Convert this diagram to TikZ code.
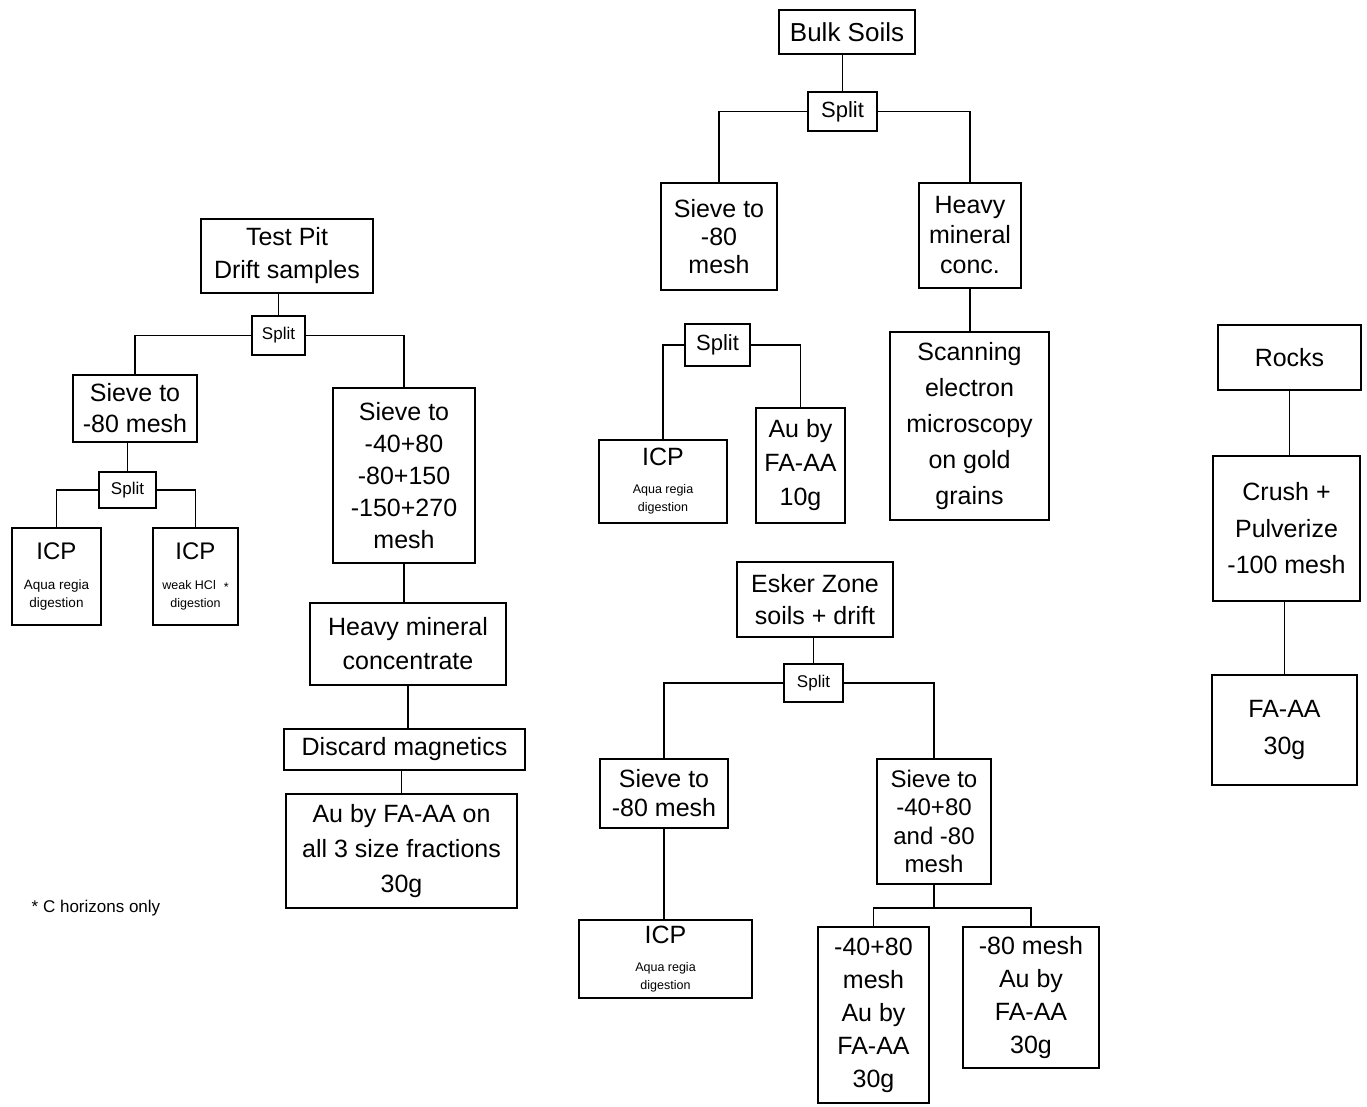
\documentclass[tikz,border=0pt]{standalone}
\usepackage{fontspec}
\setmainfont{Liberation Sans}
\newcommand{\fz}[2]{\fontsize{#1}{#2}\selectfont}
\begin{document}
\begin{tikzpicture}[x=1pt,y=-1pt,
  box/.style={draw, line width=1.3pt, inner sep=0pt, align=center},
  ln/.style={line width=1.3pt},
  splitbox/.style={box, font=\fz{17}{20}},
  bigsplit/.style={box, font=\fz{22}{26}}]
\useasboundingbox (0,0) rectangle (1367,1106);

% ---------- Test Pit ----------
\node[box, minimum width=172, minimum height=74, font=\fz{25}{33}] (tp) at (287,256) {Test Pit\\Drift samples};
\node[splitbox, minimum width=53, minimum height=39] (sp1) at (278.5,335.5) {Split};
\node[box, minimum width=124, minimum height=67, font=\fz{25}{31}] (s1) at (135,408.5) {Sieve to\\-80 mesh};
\node[splitbox, minimum width=57, minimum height=36] (sp2) at (127.5,490) {Split};
\node[box, minimum width=89, minimum height=97, font=\fz{24}{18}] (icp1) at (56.5,576.5) {ICP\\[12pt]\fz{13.5}{18}Aqua regia\\\fz{13.5}{18}digestion};
\node[box, minimum width=85, minimum height=97, font=\fz{24}{18}] (icp2) at (195.5,576.5) {ICP\\[12pt]\fz{12.5}{18}weak HCl\hspace{8pt}\raisebox{-2pt}{*}\\\fz{12.5}{18}digestion};
\node[box, minimum width=142, minimum height=175, font=\fz{25}{32}] (s2) at (404,475.5) {Sieve to\\-40+80\\-80+150\\-150+270\\mesh};
\node[box, minimum width=196, minimum height=82, font=\fz{25}{34}] (hm) at (408,644) {Heavy mineral\\concentrate};
\node[box, minimum width=241, minimum height=41, font=\fz{25}{30}] (dm) at (404.5,749.5) {Discard magnetics};
\node[box, minimum width=231, minimum height=114, font=\fz{25}{35}] (au) at (401.5,851) {Au by FA-AA on\\all 3 size fractions\\30g};
\node[font=\fz{17}{20}, inner sep=0pt] (fn) at (96,908) {* C horizons only};

\draw[ln] (sp1.north) -- (sp1.north |- tp.south);
\draw[ln] (sp1.west) -| (s1.north);
\draw[ln] (sp1.east) -| (s2.north);
\draw[ln] (sp2.north) -- (sp2.north |- s1.south);
\draw[ln] (sp2.west) -| (icp1.north);
\draw[ln] (sp2.east) -| (icp2.north);
\draw[ln] (s2.south) -- (s2.south |- hm.north);
\draw[ln] (dm.north -| hm.south) -- (hm.south);
\draw[ln] (au.north) -- (au.north |- dm.south);

% ---------- Bulk Soils ----------
\node[box, minimum width=136, minimum height=44, font=\fz{26}{30}] (bs) at (847,32) {Bulk Soils};
\node[bigsplit, minimum width=69, minimum height=39] (sp3) at (842.5,111.5) {Split};
\node[box, minimum width=116, minimum height=107, font=\fz{25}{28}] (sb) at (719,236.5) {Sieve to\\-80\\mesh};
\node[box, minimum width=102, minimum height=105, font=\fz{25}{30}] (hmc) at (970,235.5) {Heavy\\mineral\\conc.};
\node[box, minimum width=159, minimum height=188, font=\fz{25}{36}] (sem) at (969.5,426) {Scanning\\electron\\microscopy\\on gold\\grains};
\node[bigsplit, minimum width=65, minimum height=42] (sp4) at (717.5,345) {Split};
\node[box, minimum width=128, minimum height=83, font=\fz{25}{18}] (icp3) at (663,481.5) {ICP\\[10pt]\fz{12.5}{18}Aqua regia\\\fz{12.5}{18}digestion};
\node[box, minimum width=89, minimum height=115, font=\fz{25}{34}] (au10) at (800.5,465.5) {Au by\\FA-AA\\10g};

\draw[ln] (sp3.north) -- (sp3.north |- bs.south);
\draw[ln] (sp3.west) -| (sb.north);
\draw[ln] (sp3.east) -| (hmc.north);
\draw[ln] (hmc.south) -- (hmc.south |- sem.north);
\draw[ln] (sp4.west) -| (icp3.north);
\draw[ln] (sp4.east) -| (au10.north);

% ---------- Esker Zone ----------
\node[box, minimum width=156, minimum height=75, font=\fz{25}{32}] (ez) at (815,599.5) {Esker Zone\\soils + drift};
\node[splitbox, minimum width=59, minimum height=38] (sp5) at (813.5,683) {Split};
\node[box, minimum width=128, minimum height=69, font=\fz{25}{29}] (s3) at (664,793.5) {Sieve to\\-80 mesh};
\node[box, minimum width=173, minimum height=78, font=\fz{25}{18}] (icp4) at (665.5,959) {ICP\\[10pt]\fz{12.5}{18}Aqua regia\\\fz{12.5}{18}digestion};
\node[box, minimum width=114, minimum height=125, font=\fz{24}{28.5}] (s4) at (934,821.5) {Sieve to\\-40+80\\and -80\\mesh};
\node[box, minimum width=111, minimum height=176, font=\fz{25}{33}] (b1) at (873.5,1015) {-40+80\\mesh\\Au by\\FA-AA\\30g};
\node[box, minimum width=136, minimum height=141, font=\fz{25}{33}] (b2) at (1031,997.5) {-80 mesh\\Au by\\FA-AA\\30g};
\coordinate (j) at (938,908);

\draw[ln] (sp5.north) -- (sp5.north |- ez.south);
\draw[ln] (sp5.west) -| (s3.north);
\draw[ln] (sp5.east) -| (s4.north);
\draw[ln] (s3.south) -- (s3.south |- icp4.north);
\draw[ln] (s4.south) -- (s4.south |- j);
\draw[ln] (b1.north) |- (j) -| (b2.north);

% ---------- Rocks ----------
\node[box, minimum width=143, minimum height=65, font=\fz{25}{30}] (rk) at (1289.5,357.5) {Rocks};
\node[box, minimum width=147, minimum height=145, font=\fz{25}{36.5}] (cp) at (1286.5,528.5) {Crush +\\Pulverize\\-100 mesh};
\node[box, minimum width=145, minimum height=110, font=\fz{25}{37}] (fa) at (1284.5,730) {FA-AA\\30g};

\draw[ln] (rk.south) -- (rk.south |- cp.north);
\draw[ln] (fa.north) -- (fa.north |- cp.south);
\end{tikzpicture}
\end{document}
